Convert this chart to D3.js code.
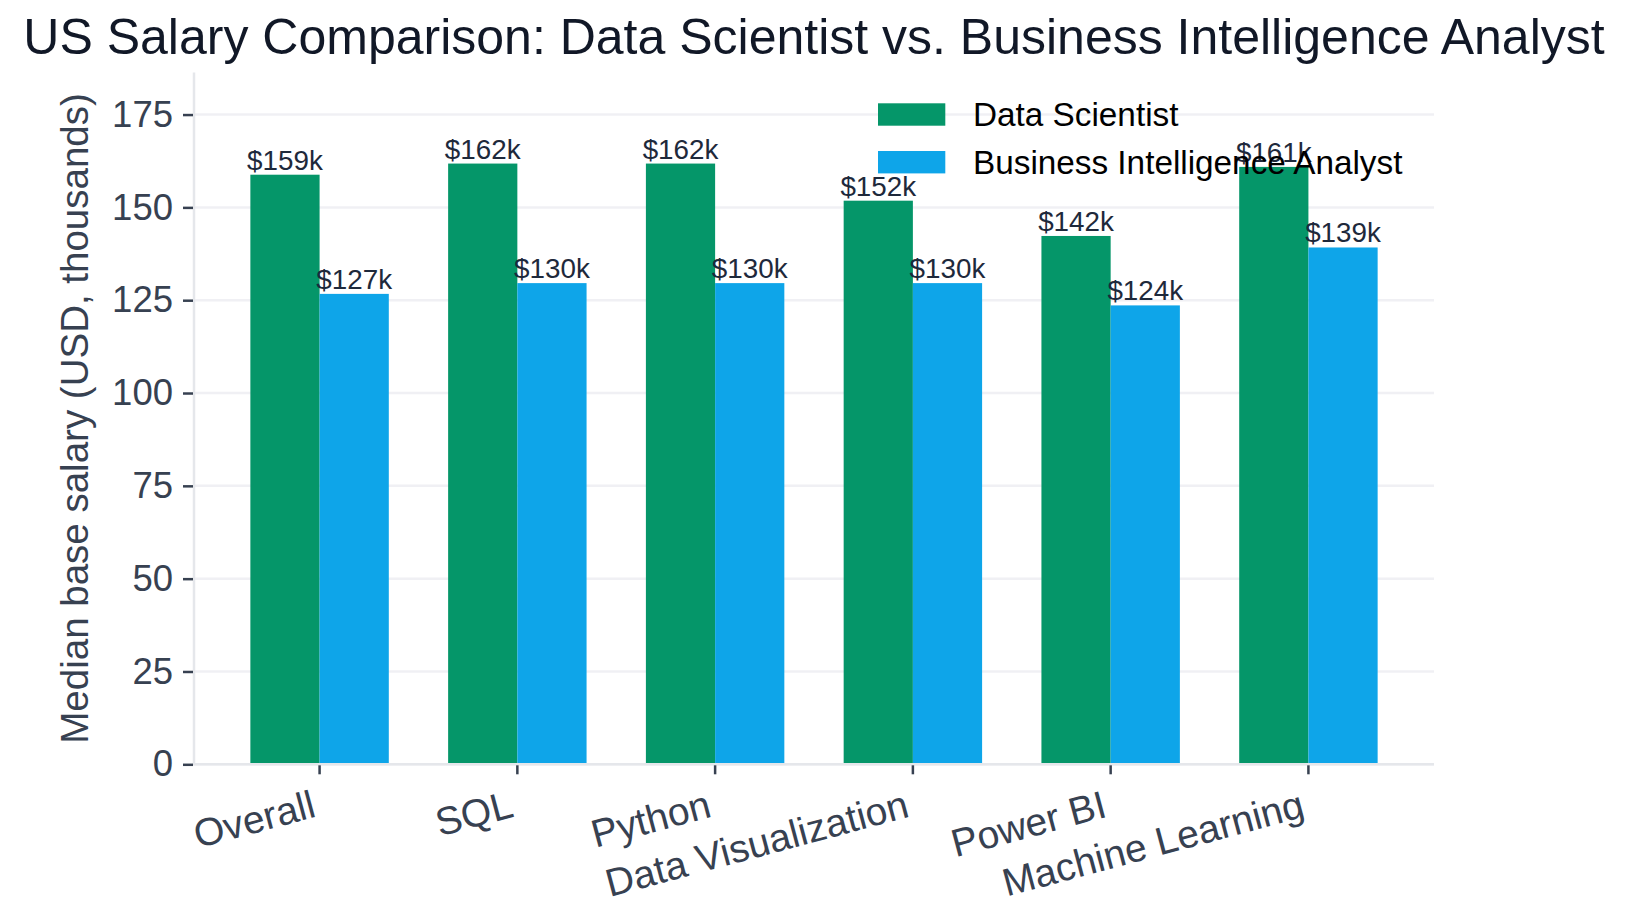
<!DOCTYPE html>
<html>
<head>
<meta charset="utf-8">
<script src="https://cdn.jsdelivr.net/npm/d3@7"></script>
<style>
  html, body { margin: 0; padding: 0; background: #ffffff; }
  svg { display: block; font-family: "Liberation Sans", Arial, Helvetica, sans-serif; }
</style>
</head>
<body>
<svg id="chart" width="1627" height="920"></svg>
<script>
// ---- data ----
const categories = ["Overall", "SQL", "Python", "Data Visualization", "Power BI", "Machine Learning"];
const seriesNames = ["Data Scientist", "Business Intelligence Analyst"];
const dataScientist = [158.8, 161.8, 161.8, 151.8, 142.3, 160.9];
const biAnalyst = [126.7, 129.6, 129.6, 129.6, 123.6, 139.2];
const yTicks = [0, 25, 50, 75, 100, 125, 150, 175];
const titleText = "US Salary Comparison: Data Scientist vs. Business Intelligence Analyst";
const yLabelText = "Median base salary (USD, thousands)";

(function () {
// ---- layout ----
const pLeft = 194, pRight = 1434, pTop = 72.6, pBottom = 764.3;
const colors = ["#059669", "#0ea5e9"];
const svg = d3.select("#chart");

const x = d3.scaleBand().domain(categories).range([pLeft, pRight]).paddingInner(0).paddingOuter(0.135);
const y = d3.scaleLinear().domain([0, 186.3]).range([pBottom, pTop]);
const barW = x.step() * 0.35;
const cx = c => x(c) + x.bandwidth() / 2;

// grid
svg.append("g").selectAll("line").data(yTicks).join("line")
  .attr("x1", pLeft).attr("x2", pRight)
  .attr("y1", d => y(d)).attr("y2", d => y(d))
  .attr("stroke", "#f0f0f4").attr("stroke-width", 2.5);

// bars
const series = [dataScientist, biAnalyst];
series.forEach((vals, si) => {
  svg.append("g").selectAll("rect").data(categories).join("rect")
    .attr("x", (c) => cx(c) + (si === 0 ? -barW : 0))
    .attr("width", barW)
    .attr("y", (c, i) => y(vals[i]))
    .attr("height", (c, i) => y(0) - y(vals[i]))
    .attr("fill", colors[si]);
});

// spines
svg.append("line").attr("x1", pLeft).attr("x2", pLeft).attr("y1", pTop).attr("y2", pBottom)
  .attr("stroke", "#e5e7eb").attr("stroke-width", 2.5);
svg.append("line").attr("x1", pLeft - 1.25).attr("x2", pRight).attr("y1", pBottom).attr("y2", pBottom)
  .attr("stroke", "#e5e7eb").attr("stroke-width", 2.5);

// y axis
const yAxis = svg.append("g").attr("transform", `translate(${pLeft - 1},0)`)
  .call(d3.axisLeft(y).tickValues(yTicks).tickSize(10).tickPadding(10).tickFormat(d3.format("d")));
yAxis.select(".domain").remove();
yAxis.selectAll(".tick line").attr("stroke", "#374151").attr("stroke-width", 2.5);
yAxis.selectAll(".tick text").attr("fill", "#374151").attr("font-size", 36.5)
  .attr("font-family", "Liberation Sans, Arial, sans-serif");

// x axis
const xAxis = svg.append("g").attr("transform", `translate(0,${pBottom + 1})`)
  .call(d3.axisBottom(x).tickSize(9).tickPadding(10));
xAxis.select(".domain").remove();
xAxis.selectAll(".tick line").attr("stroke", "#374151").attr("stroke-width", 2.5);
const fsX = 39, hX = 1.15 * fsX, dX = 0.22 * fsX, y0 = 16;
xAxis.selectAll(".tick text")
  .attr("fill", "#374151").attr("font-size", fsX)
  .attr("font-family", "Liberation Sans, Arial, sans-serif")
  .attr("text-anchor", "end")
  .attr("dy", null)
  .attr("x", 0).attr("y", -dX)
  .attr("transform", `translate(0,${y0 + 0.9659 * hX}) rotate(-15)`);

// value labels
series.forEach((vals, si) => {
  svg.append("g").selectAll("text").data(categories).join("text")
    .attr("x", c => cx(c) + (si === 0 ? -barW / 2 : barW / 2))
    .attr("y", (c, i) => y(vals[i]) - 5)
    .attr("text-anchor", "middle")
    .attr("font-size", 27.8)
    .attr("fill", "#1e293b")
    .text((c, i) => "$" + Math.round(vals[i]) + "k");
});

// y label
svg.append("text")
  .attr("transform", `translate(88,${(pTop + pBottom) / 2}) rotate(-90)`)
  .attr("text-anchor", "middle")
  .attr("font-size", 38.5)
  .attr("fill", "#374151")
  .text(yLabelText);

// title
svg.append("text")
  .attr("x", (pLeft + pRight) / 2).attr("y", 54)
  .attr("text-anchor", "middle")
  .attr("font-size", 50)
  .attr("fill", "#111827")
  .text(titleText);

// legend
const lg = svg.append("g").attr("transform", "translate(878,103.3)");
seriesNames.forEach((n, i) => {
  lg.append("rect").attr("x", 0).attr("y", i * 47.7).attr("width", 67.3).attr("height", 22.4).attr("fill", colors[i]);
  lg.append("text").attr("x", 95).attr("y", i * 47.7 + 11.2).attr("dy", "0.35em")
    .attr("font-size", 33.3).attr("fill", "#000").text(n);
});
})();
</script>
</body>
</html>
